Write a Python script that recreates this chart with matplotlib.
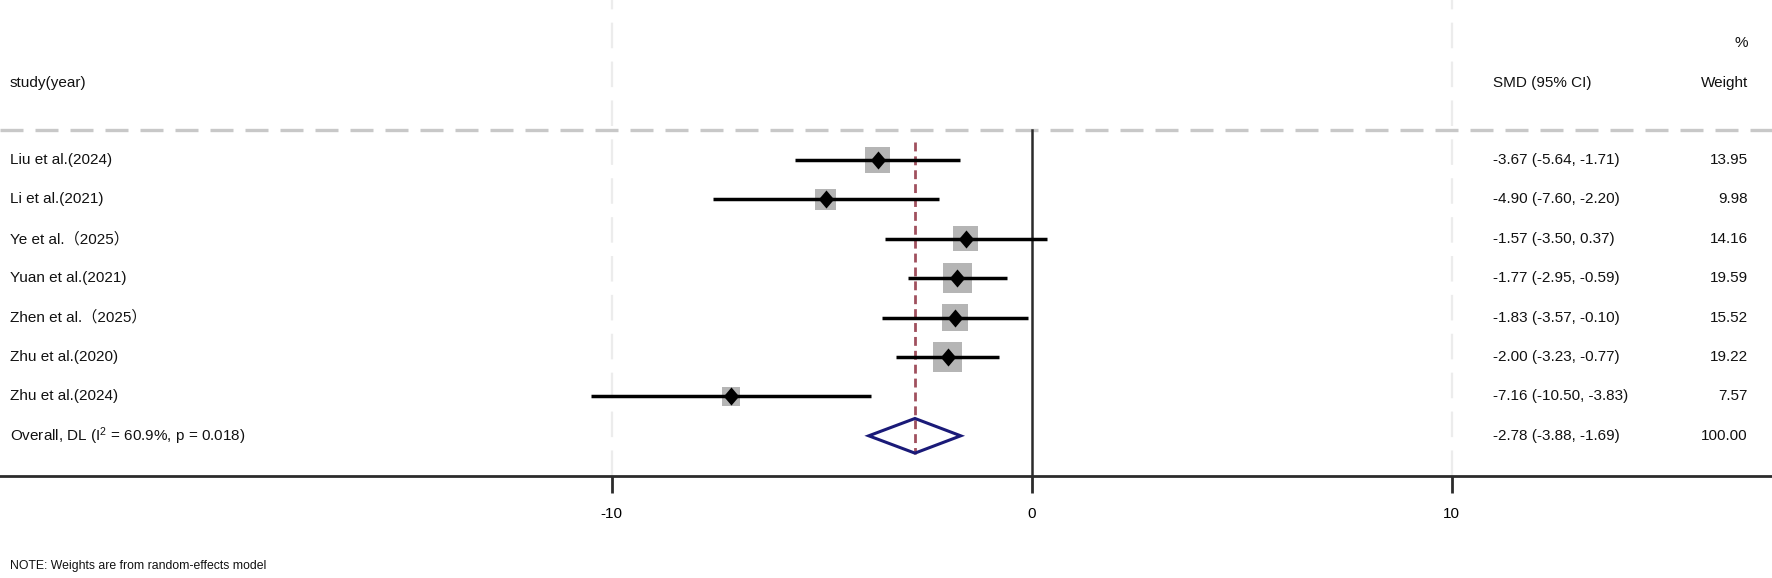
import matplotlib
matplotlib.use("Agg")
import matplotlib.pyplot as plt
from matplotlib.patches import Polygon

plt.rcParams['font.family'] = ['Liberation Sans', 'Noto Sans CJK SC', 'DejaVu Sans']
plt.rcParams['mathtext.fontset'] = 'custom'
plt.rcParams['mathtext.rm'] = 'Liberation Sans'
plt.rcParams['mathtext.it'] = 'Liberation Sans'

# study data
studies = ['Liu et al.(2024)', 'Li et al.(2021)', 'Ye et al.（2025）', 'Yuan et al.(2021)',
           'Zhen et al.（2025）', 'Zhu et al.(2020)', 'Zhu et al.(2024)']
smd = [-3.67, -4.90, -1.57, -1.77, -1.83, -2.00, -7.16]
lower = [-5.64, -7.60, -3.50, -2.95, -3.57, -3.23, -10.50]
upper = [-1.71, -2.20, 0.37, -0.59, -0.10, -0.77, -3.83]
weight = [13.95, 9.98, 14.16, 19.59, 15.52, 19.22, 7.57]

overall_label = 'Overall, DL (I$^{2}$ = 60.9%, p = 0.018)'
overall_smd = -2.78
overall_lower = -3.88
overall_upper = -1.69
overall_weight = 100.00

xticks = [-10, 0, 10]
note = 'NOTE: Weights are from random-effects model'

W, H = 1772, 578
fig = plt.figure(figsize=(W / 100, H / 100), dpi=100)
# axes spans from the top of the figure down to the x-axis line
ax = fig.add_axes([0, 1 - 476 / H, 1, 476 / H])

px_per_unit = 42.0
x0_px = 1031.7
ax.set_xlim(-x0_px / px_per_unit, (W - x0_px) / px_per_unit)
row_px = 39.4
row0_px = 160
ax.set_ylim((476 - row0_px) / row_px, -row0_px / row_px)

for s in ['top', 'left', 'right']:
    ax.spines[s].set_visible(False)
ax.spines['bottom'].set_color('#2b2b2b')
ax.spines['bottom'].set_linewidth(2.0)
ax.set_yticks([])
ax.set_xticks(xticks)
ax.set_xticklabels([str(t) for t in xticks], fontsize=11)
ax.tick_params(axis='x', length=12, width=2.0, color='#2b2b2b', pad=10)

# grid lines at -10 and 10
for t in xticks:
    if t != 0:
        ax.axvline(t, color='#ececec', lw=1.6, ls=(0, (11.5, 6)), zorder=0)

# horizontal dashed line under header
hdr_y = (130 - row0_px) / row_px
ax.axhline(hdr_y, color='#c8c8c8', lw=2.4, ls=(0, (6.9, 3.6)), zorder=1)

# vertical line at zero
ax.plot([0, 0], [hdr_y, ax.get_ylim()[0]], color='#2b2b2b', lw=1.8, zorder=2)

n = len(studies)
rows = list(range(n))
ov_row = n

# overall dashed line
ax.plot([overall_smd, overall_smd], [-0.45, ov_row + 0.45], color='#a0505e', lw=2.0,
        ls=(0, (3.2, 1.8)), zorder=2)

# weight boxes
ax.scatter(smd, rows, s=[23.3 * w for w in weight], marker='s', color='#b5b5b5',
           edgecolors='none', zorder=3)
# CI lines
ax.hlines(rows, lower, upper, color='black', lw=2.5, zorder=4)
# point estimates (diamonds)
diamond = [(-0.85, 0), (0, 1), (0.85, 0), (0, -1), (-0.85, 0)]
ax.plot(smd, rows, ls='none', marker=diamond, ms=13, color='black', mew=0, zorder=5)

# overall diamond
dia = Polygon([[overall_lower, ov_row], [overall_smd, ov_row - 0.44],
               [overall_upper, ov_row], [overall_smd, ov_row + 0.44]],
              closed=True, fill=False, edgecolor='#1a1a78', lw=2.2, zorder=5)
ax.add_patch(dia)

# text columns
lab_x = -x0_px / px_per_unit + 10 / px_per_unit
ci_x = (1493 - x0_px) / px_per_unit
wt_x = (1748 - x0_px) / px_per_unit
fs = 11
tc = '#111111'
for i in rows:
    ax.text(lab_x, i, studies[i], fontsize=fs, va='center', ha='left', color=tc)
    ax.text(ci_x, i, '%.2f (%.2f, %.2f)' % (smd[i], lower[i], upper[i]),
            fontsize=fs, va='center', ha='left', color=tc)
    ax.text(wt_x, i, '%.2f' % weight[i], fontsize=fs, va='center', ha='right', color=tc)
ax.text(lab_x, ov_row, overall_label, fontsize=fs, va='center', ha='left', color=tc)
ax.text(ci_x, ov_row, '%.2f (%.2f, %.2f)' % (overall_smd, overall_lower, overall_upper),
        fontsize=fs, va='center', ha='left', color=tc)
ax.text(wt_x, ov_row, '%.2f' % overall_weight, fontsize=fs, va='center', ha='right', color=tc)

# header
head_y = (83 - row0_px) / row_px
pct_y = (43 - row0_px) / row_px
ax.text(lab_x, head_y, 'study(year)', fontsize=fs, va='center', ha='left', color=tc)
ax.text(ci_x, head_y, 'SMD (95% CI)', fontsize=fs, va='center', ha='left', color=tc)
ax.text(wt_x, head_y, 'Weight', fontsize=fs, va='center', ha='right', color=tc)
ax.text(wt_x, pct_y, '%', fontsize=fs, va='center', ha='right', color=tc)

fig.text(10 / W, 1 - 566 / H, note, fontsize=8.8, va='center', ha='left', color=tc)

fig.savefig('out.png', dpi=100)
